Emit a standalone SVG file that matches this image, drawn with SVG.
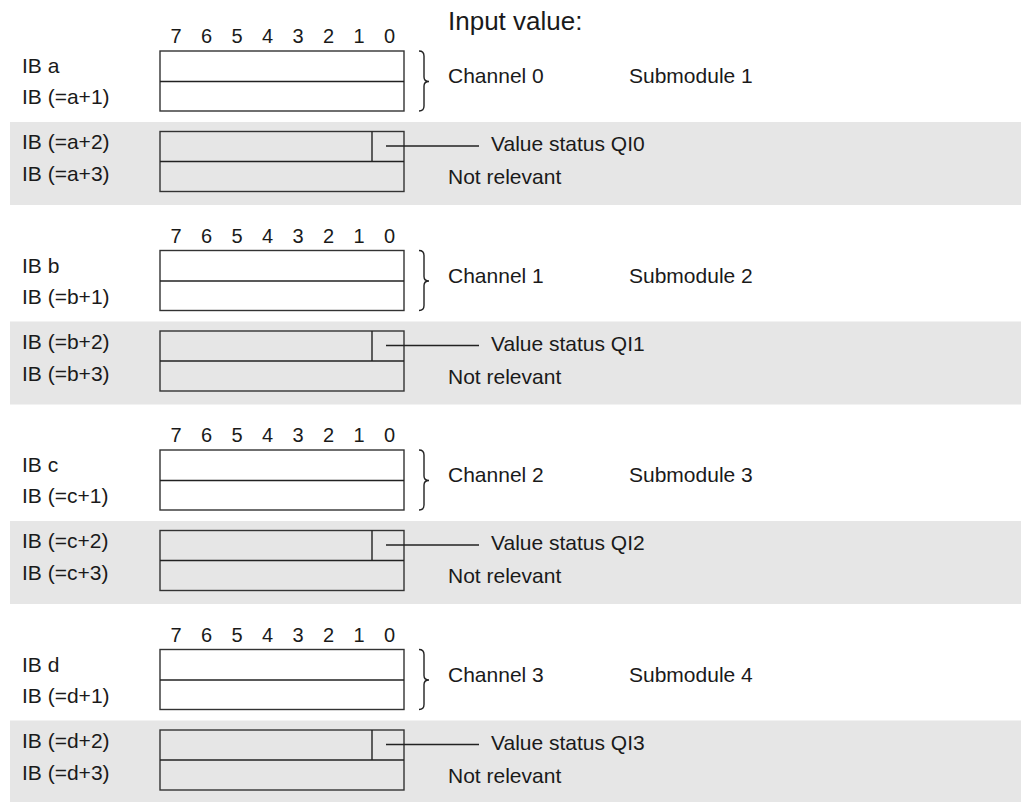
<svg xmlns="http://www.w3.org/2000/svg" width="1021" height="802" viewBox="0 0 1021 802">
<style>
text{font-family:"Liberation Sans",Arial,sans-serif;font-size:21px;fill:#1a1a1a}
.bit{text-anchor:middle;font-size:20px}
.title{font-size:26px}
.band{fill:#e6e6e6;stroke:none}
.box{fill:#ffffff;stroke:#333;stroke-width:1.4}
.boxg{fill:none;stroke:#333;stroke-width:1.4}
.ln{fill:none;stroke:#222;stroke-width:1.4}
</style>
<defs>
<g id="bits">
<text class="bit" x="176" y="43">7</text>
<text class="bit" x="206.5" y="43">6</text>
<text class="bit" x="237" y="43">5</text>
<text class="bit" x="267.5" y="43">4</text>
<text class="bit" x="298" y="43">3</text>
<text class="bit" x="328.5" y="43">2</text>
<text class="bit" x="359" y="43">1</text>
<text class="bit" x="389.5" y="43">0</text>
</g>
<g id="frame">
<rect class="band" x="10" y="122" width="1011" height="83"/>
<rect class="box" x="160" y="51" width="244" height="60"/>
<line class="ln" x1="160" y1="81.5" x2="404" y2="81.5"/>
<rect class="boxg" x="160" y="131.5" width="244" height="60"/>
<line class="ln" x1="160" y1="161.5" x2="404" y2="161.5"/>
<line class="ln" x1="372" y1="131.5" x2="372" y2="161.5"/>
</g>
</defs>
<text class="title" x="448" y="30">Input value:</text>
<g id="block1">
<use href="#frame"/>
<use href="#bits"/>
<text x="22" y="73">IB a</text>
<text x="22" y="104">IB (=a+1)</text>
<text x="22" y="149">IB (=a+2)</text>
<text x="22" y="181">IB (=a+3)</text>
<text x="448" y="83">Channel 0</text>
<text x="629" y="83">Submodule 1</text>
<text x="491" y="151">Value status QI0</text>
<text x="448" y="184">Not relevant</text>
</g>
<g id="block2" transform="translate(0,199.5)">
<use href="#frame"/>
<use href="#bits"/>
<text x="22" y="73">IB b</text>
<text x="22" y="104">IB (=b+1)</text>
<text x="22" y="149">IB (=b+2)</text>
<text x="22" y="181">IB (=b+3)</text>
<text x="448" y="83">Channel 1</text>
<text x="629" y="83">Submodule 2</text>
<text x="491" y="151">Value status QI1</text>
<text x="448" y="184">Not relevant</text>
</g>
<g id="block3" transform="translate(0,399)">
<use href="#frame"/>
<use href="#bits"/>
<text x="22" y="73">IB c</text>
<text x="22" y="104">IB (=c+1)</text>
<text x="22" y="149">IB (=c+2)</text>
<text x="22" y="181">IB (=c+3)</text>
<text x="448" y="83">Channel 2</text>
<text x="629" y="83">Submodule 3</text>
<text x="491" y="151">Value status QI2</text>
<text x="448" y="184">Not relevant</text>
</g>
<g id="block4" transform="translate(0,598.5)">
<use href="#frame"/>
<use href="#bits"/>
<text x="22" y="73">IB d</text>
<text x="22" y="104">IB (=d+1)</text>
<text x="22" y="149">IB (=d+2)</text>
<text x="22" y="181">IB (=d+3)</text>
<text x="448" y="83">Channel 3</text>
<text x="629" y="83">Submodule 4</text>
<text x="491" y="151">Value status QI3</text>
<text x="448" y="184">Not relevant</text>
</g>
<g id="connectors">
<g id="c1">
<path class="ln" d="M419,51 Q424,51 424,56 L424,77 Q424,81.5 429,81.5 Q424,81.5 424,86 L424,106 Q424,111 419,111"/>
<line class="ln" x1="386" y1="146" x2="479" y2="146"/>
</g>
<g id="c2" transform="translate(0,199.5)">
<path class="ln" d="M419,51 Q424,51 424,56 L424,77 Q424,81.5 429,81.5 Q424,81.5 424,86 L424,106 Q424,111 419,111"/>
<line class="ln" x1="386" y1="146" x2="479" y2="146"/>
</g>
<g id="c3" transform="translate(0,399)">
<path class="ln" d="M419,51 Q424,51 424,56 L424,77 Q424,81.5 429,81.5 Q424,81.5 424,86 L424,106 Q424,111 419,111"/>
<line class="ln" x1="386" y1="146" x2="479" y2="146"/>
</g>
<g id="c4" transform="translate(0,598.5)">
<path class="ln" d="M419,51 Q424,51 424,56 L424,77 Q424,81.5 429,81.5 Q424,81.5 424,86 L424,106 Q424,111 419,111"/>
<line class="ln" x1="386" y1="146" x2="479" y2="146"/>
</g>
</g>
</svg>
